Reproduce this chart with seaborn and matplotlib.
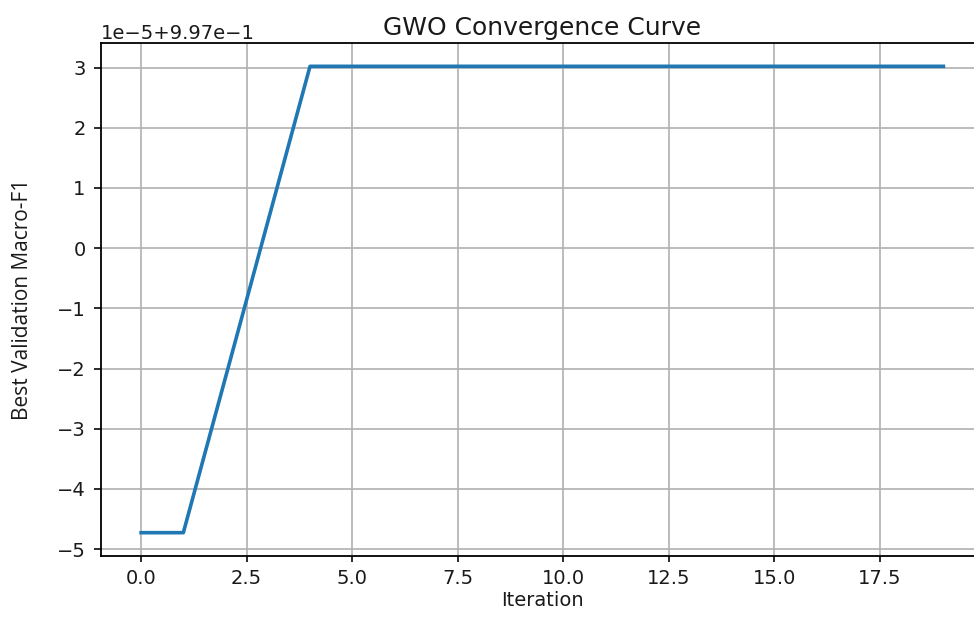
import matplotlib
matplotlib.use("Agg")
import matplotlib.pyplot as plt
import seaborn as sns
import numpy as np

# Best validation macro-F1 found by the grey wolf optimizer at each iteration
iterations = list(range(20))
best_f1 = [0.99695274, 0.99695274, 0.99697856, 0.99700438,
           0.99703020, 0.99703020, 0.99703020, 0.99703020,
           0.99703020, 0.99703020, 0.99703020, 0.99703020,
           0.99703020, 0.99703020, 0.99703020, 0.99703020,
           0.99703020, 0.99703020, 0.99703020, 0.99703020]

plt.rcParams.update({
    "font.family": "DejaVu Sans",
    "axes.linewidth": 1.3,
    "grid.color": "#b0b0b0",
    "grid.linewidth": 1.2,
    "xtick.major.size": 4.5,
    "ytick.major.size": 5,
    "xtick.major.width": 1.3,
    "ytick.major.width": 1.3,
})

W, H = 974, 617
fig = plt.figure(figsize=(W / 100, H / 100), dpi=100)
left, right, top, bottom = 101, 983.5, 43, 556
ax = fig.add_axes([left / W, 1 - bottom / H, (right - left) / W, (bottom - top) / H])

sns.lineplot(x=iterations, y=best_f1, ax=ax, color="#1f77b4", linewidth=2.6)

ax.grid(True)
ax.set_axisbelow(True)
ax.spines["right"].set_visible(False)
ax.set_xticks(np.arange(0, 20, 2.5))
ax.tick_params(axis="both", labelsize=14, colors="#1a1a1a")
ax.tick_params(axis="x", pad=5)
ax.tick_params(axis="y", pad=6)
ax.yaxis.get_offset_text().set_fontsize(14)

ax.set_title("GWO Convergence Curve", fontsize=18, pad=6, color="#1a1a1a")
ax.set_xlabel("Iteration", fontsize=14, labelpad=2, color="#1a1a1a")
ax.set_ylabel("Best Validation Macro-F1", fontsize=15, family="Open Sans", color="#1a1a1a")
ax.yaxis.set_label_coords(-0.077, 0.5)

fig.savefig("out.png", dpi=100)
